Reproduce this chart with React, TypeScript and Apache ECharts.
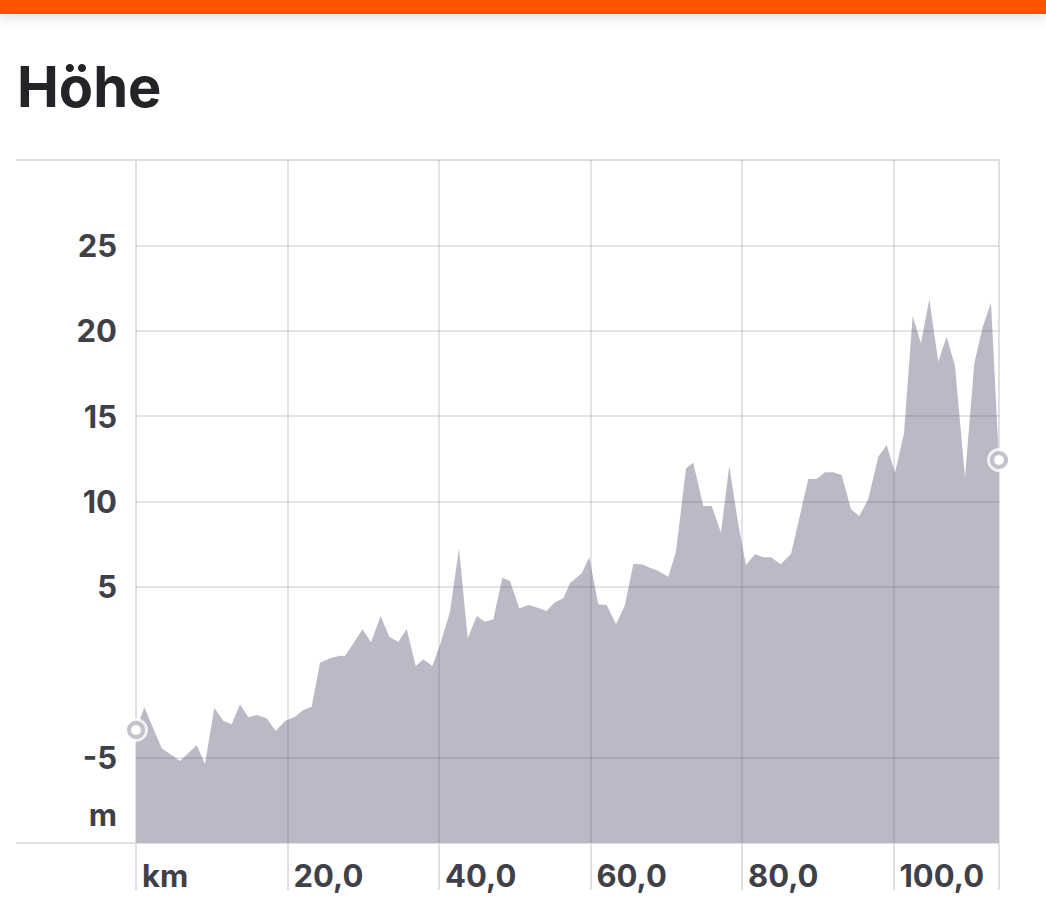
import React, { useEffect, useRef } from "react";
import * as echarts from "echarts";

const titleText = "Höhe";
const distKm = [0,1.10,3.39,5.81,8.01,9.11,10.34,11.52,12.63,13.73,14.83,15.93,17.25,18.44,19.67,20.99,22.09,23.19,24.29,25.61,26.93,27.59,29.92,31.02,32.30,33.44,34.63,35.74,36.92,37.93,39.12,40.13,41.45,42.64,43.79,44.98,46.07,47.17,48.36,49.37,50.60,51.88,53.03,54.22,55.22,56.41,57.29,58.84,59.84,61.03,62.14,63.37,64.55,65.65,66.76,67.85,68.95,70.27,71.29,72.61,73.57,74.89,76.00,77.23,78.32,79.51,80.53,81.72,82.81,83.83,85.11,86.47,87.26,88.75,89.86,90.96,92.05,93.16,94.39,95.48,96.67,97.99,99.10,100.20,101.39,102.53,103.63,104.73,105.91,107.02,108.12,109.44,110.67,111.78,112.87,113.93];
const elevM = [-3.38,-2.05,-4.45,-5.20,-4.28,-5.37,-2.08,-2.84,-3.05,-1.88,-2.64,-2.50,-2.70,-3.44,-2.86,-2.60,-2.21,-2.02,0.56,0.82,0.97,0.95,2.52,1.75,3.29,2.08,1.77,2.53,0.37,0.76,0.37,1.60,3.55,7.26,1.99,3.29,2.96,3.10,5.54,5.34,3.75,3.94,3.78,3.59,4.07,4.33,5.21,5.80,6.73,3.98,3.94,2.81,3.94,6.34,6.32,6.12,5.93,5.60,7.06,11.94,12.27,9.74,9.74,8.17,12.08,8.68,6.28,6.91,6.73,6.73,6.32,6.93,8.45,11.32,11.32,11.71,11.71,11.55,9.54,9.15,10.13,12.62,13.31,11.69,13.99,20.86,19.27,21.84,18.19,19.65,17.94,11.42,18.09,20.24,21.64,12.43];

const xLabelValues = [0, 20, 40, 60, 80, 100];
const xUnitLabel = "km";
const yLabelValues = [-5, 5, 10, 15, 20, 25];
const yUnitLabel = "m";
const yUnitPos = -8.36;
const yGridValues = [-5, 5, 10, 15, 20, 25];
const xGridValues = [20, 40, 60, 80, 100];
const yMin = -10;
const yMax = 30;

export default function App() {
  const ref = useRef<HTMLDivElement>(null);
  useEffect(() => {
    if (!ref.current) return;
    const chart = echarts.init(ref.current, null, { renderer: "svg" });
    const n = Math.min(distKm.length, elevM.length);
    const pts = [];
    for (let i = 0; i < n; i++) pts.push([distKm[i], elevM[i]]);
    const xMax = distKm[n - 1];
    const ends = [pts[0], pts[n - 1]];
    const light = "#dfdfe5";
    const labelStyle = {
      fontFamily: "Inter",
      fontSize: 31,
      fontWeight: 700,
      color: "#404048",
    };
    chart.setOption({
      animation: false,
      backgroundColor: "#ffffff",
      graphic: [
        {
          type: "rect",
          shape: { x: 0, y: 0, width: 1046, height: 14 },
          style: {
            fill: "#fc5200",
            shadowBlur: 12,
            shadowColor: "rgba(0,0,0,0.12)",
            shadowOffsetY: 4,
          },
          z: 10,
        },
        {
          type: "text",
          x: 17,
          y: 87,
          style: {
            text: titleText,
            font: "700 56px Inter",
            fill: "#232328",
            textVerticalAlign: "middle",
          },
        },
      ],
      grid: {
        left: 136,
        right: 47,
        top: 160,
        bottom: 79,
        show: true,
        borderColor: light,
        borderWidth: 2,
        backgroundColor: "transparent",
      },
      xAxis: {
        type: "value",
        min: 0,
        max: xMax,
        axisLine: { show: false, onZero: false },
        splitLine: { show: false },
        axisTick: {
          show: true,
          customValues: [...xLabelValues, xMax],
          length: 47,
          lineStyle: { color: light, width: 2 },
        },
        axisLabel: {
          customValues: xLabelValues,
          formatter: (v: number) =>
            v === 0 ? xUnitLabel : v.toFixed(1).replace(".", ","),
          align: "left",
          verticalAlign: "middle",
          margin: 32,
          padding: [0, 0, 0, 6],
          ...labelStyle,
        },
      },
      yAxis: {
        type: "value",
        min: yMin,
        max: yMax,
        axisLine: { show: false, onZero: false },
        splitLine: { show: false },
        axisTick: {
          show: true,
          customValues: [yMin, yMax],
          length: 120,
          lineStyle: { color: light, width: 2 },
        },
        axisLabel: {
          customValues: [yUnitPos, ...yLabelValues],
          formatter: (v: number) => (v < -6 ? yUnitLabel : String(v)),
          margin: 19,
          ...labelStyle,
        },
      },
      series: [
        {
          type: "line",
          data: pts,
          symbol: "none",
          lineStyle: { width: 0, opacity: 0 },
          areaStyle: { color: "#babac6", opacity: 1, origin: "start" },
          z: 2,
          silent: true,
          markLine: {
            silent: true,
            symbol: ["none", "none"],
            label: { show: false },
            lineStyle: { color: "rgba(70,70,100,0.15)", width: 2, type: "solid" },
            data: [
              ...yGridValues.map((v) => ({ yAxis: v })),
              ...xGridValues.map((v) => ({ xAxis: v })),
            ],
          },
        },
        {
          type: "scatter",
          data: ends,
          symbol: "circle",
          symbolSize: 24,
          itemStyle: { color: "#ffffff" },
          clip: false,
          silent: true,
          z: 5,
        },
        {
          type: "scatter",
          data: ends,
          symbol: "circle",
          symbolSize: 14,
          itemStyle: { color: "#ffffff", borderColor: "#b4b4c0", borderWidth: 4 },
          clip: false,
          silent: true,
          z: 6,
        },
      ],
    });
    return () => chart.dispose();
  }, []);
  return (
    <div
      ref={ref}
      style={{ position: "fixed", left: 0, top: 0, width: 1046, height: 922 }}
    />
  );
}
